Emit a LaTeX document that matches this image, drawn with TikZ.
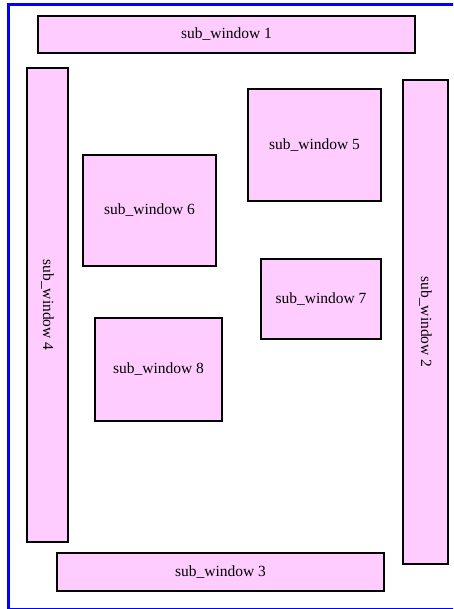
\documentclass[tikz,border=0pt]{standalone}
\usepackage{fontspec}
\setmainfont{Liberation Serif}
\usetikzlibrary{positioning}

\definecolor{winpink}{HTML}{FFCCFF}

\begin{document}
\begin{tikzpicture}[x=1pt, y=-1pt,
  win/.style={draw=black, line width=1.4pt, fill=winpink, inner sep=0pt, font=\fontsize{15.5}{18}\selectfont},
  frame/.style={draw=blue, line width=3pt}
]
\useasboundingbox (0,0) rectangle (453,609);
\clip (0,0) rectangle (453,609);

\draw[frame] (8.5,4.5) rectangle (456,609.3);

\node[win, minimum width=377pt, minimum height=37pt] (w1) at (226.5,34.5) {sub\_window 1};
\node[win, rotate=-90, minimum width=484pt, minimum height=45pt] (w2) at (425.5,322) {sub\_window 2};
\node[win, minimum width=327pt, minimum height=38pt] (w3) at (220.5,572) {sub\_window 3};
\node[win, rotate=-90, minimum width=474pt, minimum height=41pt] (w4) at (47.5,305) {sub\_window 4};
\node[win, minimum width=133pt, minimum height=112pt] (w5) at (314.5,145) {sub\_window 5};
\node[win, minimum width=133pt, minimum height=111pt] (w6) at (149.5,210.5) {sub\_window 6};
\node[win, minimum width=120pt, minimum height=80pt] (w7) at (321,299) {sub\_window 7};
\node[win, minimum width=127pt, minimum height=103pt] (w8) at (158.5,369.5) {sub\_window 8};

\end{tikzpicture}
\end{document}
